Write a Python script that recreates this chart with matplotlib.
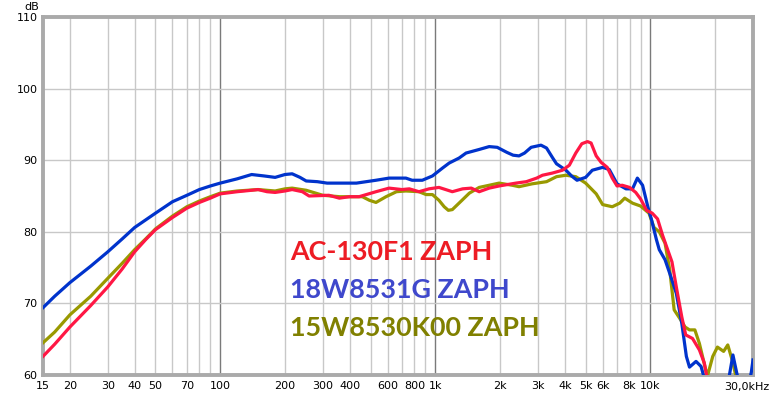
import numpy as np
import matplotlib
matplotlib.use('Agg')
from matplotlib import pyplot as plt

freq_blue = [15, 17, 20, 25, 30, 35, 40, 50, 60, 70, 80, 90, 100, 120, 140, 160, 180, 200, 216,
             235, 251, 283, 314, 430, 530, 610, 730, 780, 870, 970, 1080, 1160, 1290, 1390, 1600,
             1780, 1940, 2150, 2300, 2450, 2600, 2790, 3100, 3290, 3500, 3660, 4050, 4300, 4560,
             5000, 5370, 6000, 6440, 7000, 7700, 8260, 8700, 9200, 9730, 10100, 10670, 11000,
             11700, 12300, 13200, 14000, 14700, 15200, 16300, 17200, 17800, 19000, 21000, 23000,
             24200, 25200, 26500, 28500, 29500, 30000]
db_blue = [69.4, 71.0, 72.9, 75.2, 77.2, 79.0, 80.6, 82.6, 84.2, 85.1, 85.9, 86.4, 86.8, 87.4,
           88.0, 87.8, 87.6, 88.0, 88.1, 87.6, 87.1, 87.0, 86.8, 86.8, 87.2, 87.5, 87.5, 87.2,
           87.2, 87.8, 88.9, 89.6, 90.3, 91.0, 91.5, 91.9, 91.8, 91.1, 90.7, 90.6, 91.0, 91.8,
           92.1, 91.7, 90.4, 89.5, 88.6, 87.8, 87.2, 87.6, 88.6, 89.0, 88.7, 86.7, 86.0, 86.0,
           87.5, 86.5, 83.5, 81.8, 78.9, 77.5, 76.1, 74.2, 71.4, 67.2, 62.6, 61.1, 61.9, 61.2,
           59.6, 57.5, 57.0, 59.0, 62.8, 60.3, 57.5, 58.0, 60.5, 62.1]

freq_red = [15, 17, 20, 25, 30, 35, 40, 45, 50, 60, 70, 80, 90, 100, 120, 140, 150, 165, 180,
            200, 216, 241, 259, 320, 358, 398, 442, 530, 610, 700, 757, 840, 935, 1040, 1200,
            1340, 1470, 1600, 1780, 1980, 2370, 2650, 2960, 3150, 3500, 3900, 4200, 4500, 4800,
            5100, 5300, 5600, 5900, 6300, 6650, 7000, 7400, 8000, 8550, 9000, 9600, 10200,
            10800, 11400, 12600, 13200, 14000, 14600, 15700, 16900, 17800, 18300, 19500, 30000]
db_red = [62.6, 64.3, 66.7, 69.7, 72.3, 74.8, 77.2, 78.9, 80.3, 82.0, 83.3, 84.1, 84.7, 85.3,
          85.6, 85.8, 85.9, 85.6, 85.5, 85.7, 85.9, 85.6, 85.0, 85.1, 84.7, 84.9, 84.9, 85.6,
          86.1, 85.9, 86.0, 85.6, 86.0, 86.2, 85.6, 86.0, 86.1, 85.6, 86.1, 86.4, 86.8, 87.0,
          87.5, 87.9, 88.2, 88.6, 89.3, 91.0, 92.3, 92.6, 92.4, 90.6, 89.7, 89.0, 87.5, 86.4,
          86.5, 86.2, 85.5, 84.6, 83.0, 82.6, 81.8, 79.5, 75.8, 72.3, 68.1, 65.6, 65.1, 63.5,
          61.7, 59.8, 57.0, 55.0]

freq_olive = [15, 17, 20, 25, 30, 35, 40, 45, 50, 60, 70, 80, 90, 100, 120, 150, 180, 200, 216,
              251, 300, 360, 420, 458, 494, 530, 590, 660, 730, 840, 906, 970, 1040, 1100, 1150,
              1200, 1320, 1440, 1600, 1780, 1980, 2280, 2450, 2820, 3290, 3660, 4050, 4500, 5000,
              5600, 6000, 6650, 7200, 7600, 8260, 9000, 9850, 10400, 11000, 11700, 12300, 12900,
              13700, 14500, 15200, 16100, 16900, 17800, 18400, 19500, 20500, 21900, 22900, 24000,
              25000, 26500, 30000]
db_olive = [64.5, 66.0, 68.4, 71.0, 73.5, 75.6, 77.5, 79.0, 80.4, 82.2, 83.5, 84.3, 84.9, 85.4,
            85.7, 85.9, 85.7, 86.0, 86.1, 85.8, 85.1, 84.9, 84.9, 84.9, 84.4, 84.1, 84.9, 85.6,
            85.7, 85.6, 85.2, 85.2, 84.4, 83.5, 83.0, 83.1, 84.3, 85.4, 86.2, 86.5, 86.8, 86.5,
            86.3, 86.7, 87.0, 87.7, 87.9, 87.7, 86.8, 85.3, 83.8, 83.5, 84.0, 84.7, 84.0, 83.6,
            82.6, 80.6, 80.0, 78.4, 74.7, 69.1, 67.9, 66.7, 66.3, 66.3, 64.4, 61.6, 59.8, 62.6,
            63.9, 63.3, 64.2, 62.1, 59.8, 57.0, 56.0]

names = ['AC-130F1 ZAPH', '18W8531G ZAPH', '15W8530K00 ZAPH']
text_colors = ['#ED1C24', '#3F48CC', '#808000']

xtick_pos = [15, 20, 30, 40, 50, 70, 100, 200, 300, 400, 600, 800, 1000, 2000, 3000, 4000,
             5000, 6000, 8000, 10000]
xtick_lab = ['15', '20', '30', '40', '50', '70', '100', '200', '300', '400', '600', '800',
             '1k', '2k', '3k', '4k', '5k', '6k', '8k', '10k']
ytick_pos = [60, 70, 80, 90, 100, 110]

fig = plt.figure(figsize=(7.75, 3.99), dpi=100)
ax = fig.add_axes([43 / 775, 24 / 399, 710 / 775, 358 / 399])
ax.set_xscale('log')
ax.set_xlim(15, 30000)
ax.set_ylim(60, 110)

# grid
minor = [v * d for d in (10, 100, 1000, 10000) for v in range(2, 10)]
minor = [m for m in minor if 15 < m < 30000]
for m in minor:
    ax.axvline(m, color='#c8c8c8', lw=1, zorder=1)
for m in (100, 1000, 10000):
    ax.axvline(m, color='#7a7a7a', lw=1, zorder=1)
for y in (70, 80, 90, 100):
    ax.axhline(y, color='#c8c8c8', lw=1, zorder=1)

ax.plot(freq_olive, db_olive, color='#999900', lw=2.3, zorder=3)
ax.plot(freq_blue, db_blue, color='#0033cc', lw=2.3, zorder=4)
ax.plot(freq_red, db_red, color='#ff1744', lw=2.3, zorder=5)

ax.set_xticks(xtick_pos)
ax.set_xticklabels(xtick_lab)
ax.xaxis.set_minor_locator(matplotlib.ticker.NullLocator())
ax.set_yticks(ytick_pos)
ax.tick_params(length=0, labelsize=8, pad=4)
ax.grid(False)
for s in ax.spines.values():
    s.set_color('#aaaaaa')
    s.set_linewidth(2.8)

fig.text(747 / 775, 1 - 387 / 399, '30,0kHz', ha='center', va='center', fontsize=8)
fig.text(32 / 775, 1 - 7 / 399, 'dB', ha='center', va='center', fontsize=8)

for i, (n, c) in enumerate(zip(names, text_colors)):
    fig.text(290 / 775, 1 - (260 + 38 * i) / 399, n, color=c, fontsize=19.4,
             fontweight='bold', family=['Lato', 'DejaVu Sans'], ha='left', va='baseline')

fig.savefig('out.png', dpi=100)
